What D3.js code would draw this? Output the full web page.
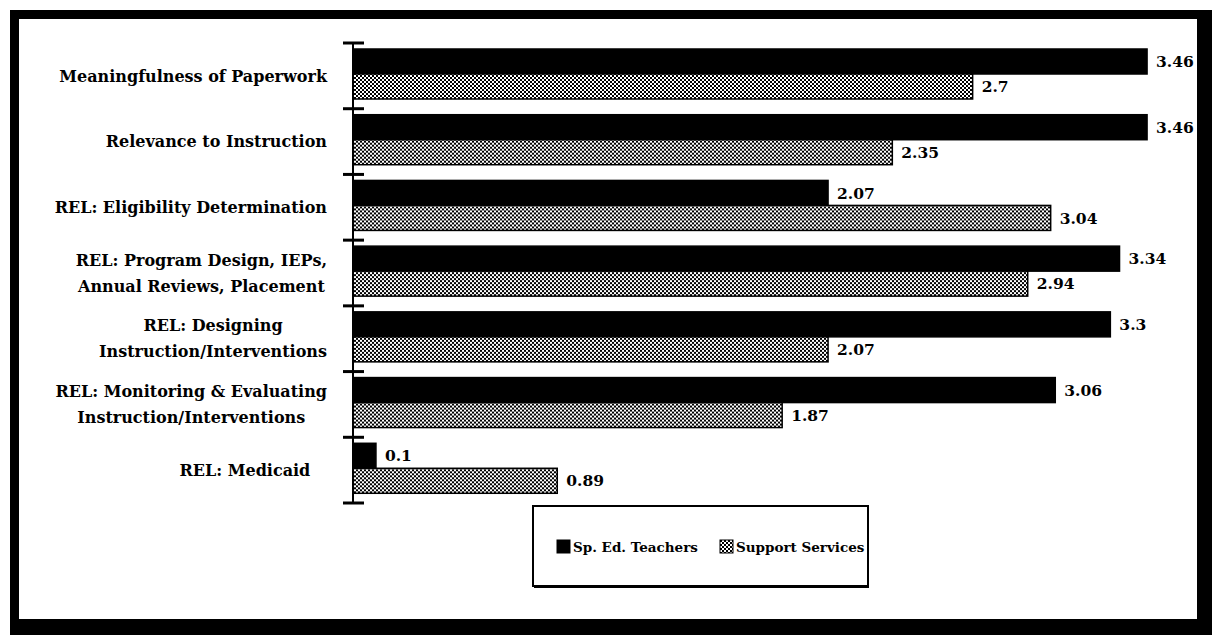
<!DOCTYPE html>
<html>
<head>
<meta charset="utf-8">
<script src="https://cdn.jsdelivr.net/npm/d3@7"></script>
<style>
  html, body { margin: 0; padding: 0; background: #fff; }
  svg { display: block; }
  text { font-family: "DejaVu Serif", "Liberation Serif", serif; font-weight: bold; fill: #000; }
</style>
</head>
<body>
<svg id="chart" width="1212" height="635"></svg>
<script>
// Survey ratings by item, two respondent groups
const categories = [
  "Meaningfulness of Paperwork",
  "Relevance to Instruction",
  "REL: Eligibility Determination",
  "REL: Program Design, IEPs,|Annual Reviews, Placement",
  "REL: Designing|Instruction/Interventions",
  "REL: Monitoring & Evaluating|Instruction/Interventions",
  "REL: Medicaid\u00a0\u00a0\u00a0"
];
const seriesNames = ["Sp. Ed. Teachers", "Support Services"];
const teachers = [3.46, 3.46, 2.07, 3.34, 3.3, 3.06, 0.1];
const support  = [2.7, 2.35, 3.04, 2.94, 2.07, 1.87, 0.89];
const xDomain = [0, 3.5];

const svg = d3.select("#chart");
const defs = svg.append("defs");

// fine dithered fill for the second series
const pat = defs.append("pattern")
  .attr("id", "dither")
  .attr("patternUnits", "userSpaceOnUse")
  .attr("width", 4).attr("height", 4);
pat.append("rect").attr("width", 4).attr("height", 4).attr("fill", "#fff");
pat.append("rect").attr("x", 0).attr("y", 0).attr("width", 2).attr("height", 2).attr("fill", "#000");
pat.append("rect").attr("x", 2).attr("y", 2).attr("width", 2).attr("height", 2).attr("fill", "#000");

const fills = ["#000", "url(#dither)"];

// outer frame (heavier on right and bottom)
const frame = svg.append("g");
frame.append("rect").attr("x", 10).attr("y", 10).attr("width", 1202).attr("height", 9);
frame.append("rect").attr("x", 10).attr("y", 10).attr("width", 9).attr("height", 625);
frame.append("rect").attr("x", 1197).attr("y", 10).attr("width", 15).attr("height", 625);
frame.append("rect").attr("x", 10).attr("y", 619).attr("width", 1202).attr("height", 16);

const x = d3.scaleLinear().domain(xDomain).range([353, 1156.25]);
const y = d3.scaleBand().domain(categories).range([43, 503]).padding(0);
const ySub = d3.scaleBand().domain(seriesNames).range([6, 56]).padding(0);

const rows = categories.map((c, i) => ({
  cat: c,
  vals: [
    { s: seriesNames[0], v: teachers[i], f: fills[0] },
    { s: seriesNames[1], v: support[i], f: fills[1] }
  ]
}));

const g = svg.append("g");
const grp = g.selectAll("g.cat").data(rows).join("g")
  .attr("class", "cat")
  .attr("transform", d => `translate(0,${y(d.cat)})`);

grp.selectAll("rect").data(d => d.vals).join("rect")
  .attr("x", x(0))
  .attr("y", d => ySub(d.s))
  .attr("width", d => x(d.v) - x(0))
  .attr("height", ySub.bandwidth())
  .attr("fill", d => d.f)
  .attr("stroke", "#000")
  .attr("stroke-width", 1.5);

grp.selectAll("text.val").data(d => d.vals).join("text")
  .attr("class", "val")
  .attr("x", d => x(d.v) + 9)
  .attr("y", d => ySub(d.s) + ySub.bandwidth() / 2)
  .attr("dy", "0.36em")
  .attr("font-size", 15.5)
  .text(d => d.v);

// category labels: lines centred on each other, block set against the axis
grp.each(function(d) {
  const lines = d.cat.split("|");
  const gg = d3.select(this);
  const cy = y.bandwidth() / 2;
  const lh = 26;
  const t = gg.append("text").attr("font-size", 16);
  lines.forEach((ln, k) => {
    t.append("tspan").text(ln)
      .attr("y", cy + (k - (lines.length - 1) / 2) * lh)
      .attr("dy", "0.36em");
  });
  const widths = [];
  t.selectAll("tspan").each(function() { widths.push(this.getComputedTextLength()); });
  const maxW = d3.max(widths);
  const right = 327;
  t.selectAll("tspan").attr("x", right - maxW / 2).attr("text-anchor", "middle");
});

// category axis with crossing tick marks
const axis = svg.append("g");
axis.append("line")
  .attr("x1", x(0)).attr("x2", x(0))
  .attr("y1", y.range()[0]).attr("y2", y.range()[1])
  .attr("stroke", "#000").attr("stroke-width", 2);
const tickYs = categories.map(c => y(c)).concat([y.range()[1]]);
axis.selectAll("line.tick").data(tickYs).join("line")
  .attr("class", "tick")
  .attr("x1", x(0) - 10).attr("x2", x(0) + 11)
  .attr("y1", d => d).attr("y2", d => d)
  .attr("stroke", "#000").attr("stroke-width", 3);

// legend
const lg = svg.append("g");
lg.append("rect").attr("x", 533).attr("y", 506).attr("width", 335).attr("height", 80)
  .attr("fill", "#fff").attr("stroke", "#000").attr("stroke-width", 2);
lg.append("line").attr("x1", 534).attr("x2", 869).attr("y1", 587).attr("y2", 587)
  .attr("stroke", "#000").attr("stroke-width", 2);
const legX = [557, 720];
const item = lg.selectAll("g.item").data(seriesNames).join("g")
  .attr("class", "item")
  .attr("transform", (d, i) => `translate(${legX[i]},540)`);
item.append("rect").attr("width", 13).attr("height", 13)
  .attr("fill", (d, i) => fills[i]).attr("stroke", "#000").attr("stroke-width", 1);
item.append("text").attr("x", 16).attr("y", 7).attr("dy", "0.36em")
  .attr("font-size", 13.5).text(d => d);
</script>
</body>
</html>
